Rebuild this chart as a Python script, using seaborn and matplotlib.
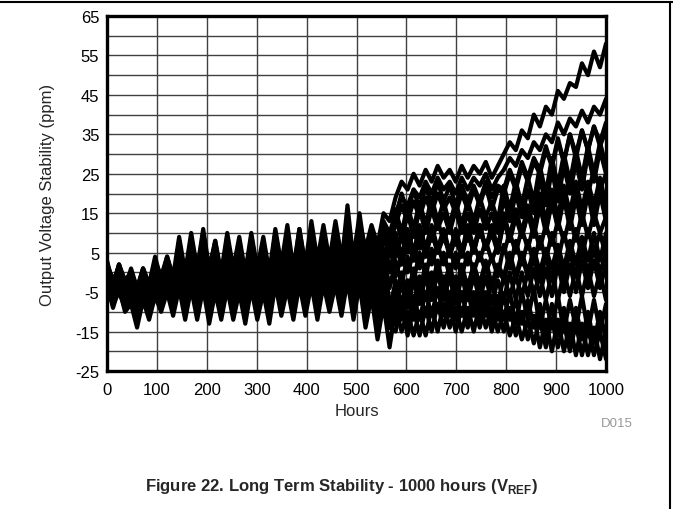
import numpy as np
import pandas as pd
import matplotlib
matplotlib.use("Agg")
import matplotlib.pyplot as plt
import seaborn as sns
from matplotlib.lines import Line2D

# ==========================================
# Data: output voltage drift (ppm), one reading every ~12 hours
# ==========================================
hours = np.linspace(0, 1000, 84)

s1 = [3, -3, 2, -4, 1, -4, 0, -3, 4, -2, 4, -1,
      9, 0, 10, 1, 11, 1, 8, 0, 10, 1, 9, 0,
      10, 1, 9, 0, 11, 2, 12, 1, 11, 2, 13, 3,
      12, 3, 13, 4, 12, 5, 13, 6, 12, 7, 15, 13,
      19, 23, 21, 25, 22, 26, 23, 27, 24, 26, 23, 27,
      24, 27, 25, 28, 24, 27, 30, 33, 31, 36, 34, 40,
      37, 42, 40, 46, 44, 48, 47, 53, 50, 56, 52, 58]
s2 = [1, -3, 2, -2, 0, -4, 1, -3, 3, -1, 4, -2,
      5, -1, 6, 0, 7, 1, 5, -1, 6, 0, 5, -1,
      6, 0, 5, -1, 7, 1, 6, 0, 7, 1, 8, 2,
      8, 2, 9, 3, 11, 4, 12, 5, 11, 6, 13, 10,
      15, 19, 17, 21, 19, 23, 20, 24, 21, 23, 20, 24,
      21, 24, 22, 25, 21, 24, 26, 29, 27, 31, 29, 33,
      31, 35, 33, 38, 35, 39, 37, 41, 38, 42, 40, 44]
s3 = [1, -4, 2, -3, -1, -6, 0, -5, 2, -3, 3, -3,
      5, -2, 6, -1, 6, -2, 4, -3, 6, -1, 5, -2,
      6, -1, 5, -3, 7, 0, 6, -2, 8, 0, 7, -1,
      7, 0, 8, 1, 9, 2, 10, 2, 9, 3, 11, 8,
      12, 17, 13, 18, 14, 19, 15, 20, 16, 19, 15, 20,
      16, 21, 17, 22, 16, 21, 20, 25, 21, 27, 23, 28,
      25, 31, 27, 33, 28, 35, 30, 36, 31, 37, 33, 38]
s4 = [-1, -6, 0, -5, -2, -7, -1, -6, 1, -4, 2, -5,
      4, -4, 5, -3, 5, -3, 3, -4, 5, -3, 4, -4,
      5, -3, 4, -4, 6, -2, 5, -3, 6, -2, 6, -2,
      6, -2, 7, -1, 7, -1, 8, -1, 7, 0, 9, 4,
      14, 8, 15, 9, 16, 10, 16, 11, 15, 10, 16, 10,
      15, 10, 16, 11, 15, 10, 19, 13, 20, 14, 21, 15,
      24, 17, 26, 18, 27, 20, 28, 21, 30, 23, 31, 25]
s5 = [1, -4, 0, -5, -1, -7, 0, -5, 0, -5, 1, -6,
      2, -5, 3, -4, 3, -4, 2, -5, 3, -4, 2, -5,
      3, -4, 2, -5, 4, -3, 3, -4, 4, -3, 4, -3,
      4, -3, 5, -2, 5, -2, 6, -1, 5, -2, 6, 2,
      4, 9, 5, 11, 6, 12, 8, 13, 8, 12, 7, 12,
      8, 13, 9, 14, 9, 13, 12, 17, 13, 18, 14, 19,
      15, 21, 17, 23, 18, 24, 19, 25, 20, 26, 21, 25]
s6 = [-2, -7, -1, -6, -3, -8, -2, -7, 0, -5, 1, -6,
      2, -5, 2, -5, 2, -5, 1, -6, 2, -5, 1, -6,
      2, -5, 1, -6, 3, -4, 2, -5, 3, -4, 3, -4,
      3, -4, 4, -3, 4, -3, 5, -2, 4, -3, 5, 0,
      7, 2, 8, 3, 9, 4, 10, 5, 9, 5, 9, 4,
      10, 5, 11, 6, 10, 5, 13, 8, 14, 9, 15, 10,
      17, 11, 18, 12, 19, 13, 20, 14, 20, 15, 21, 16]
s7 = [-1, -5, -2, -6, -3, -9, -2, -7, -1, -6, 0, -7,
      1, -6, 1, -6, 1, -6, 0, -7, 1, -6, 0, -7,
      1, -6, 0, -7, 2, -5, 1, -6, 2, -5, 2, -5,
      2, -5, 3, -4, 3, -4, 3, -5, 2, -5, 3, -3,
      -1, 4, 0, 5, 1, 6, 2, 7, 2, 6, 1, 6,
      2, 7, 3, 8, 3, 7, 5, 10, 5, 11, 6, 12,
      6, 12, 7, 13, 8, 14, 8, 15, 9, 15, 10, 14]
s8 = [-3, -7, -2, -6, -4, -10, -3, -8, -2, -6, -1, -7,
      0, -6, 0, -6, 0, -6, -1, -7, 0, -6, -1, -7,
      0, -6, -1, -7, 1, -5, 0, -6, 1, -5, 1, -5,
      1, -5, 1, -5, 2, -4, 2, -5, 1, -6, 2, -4,
      3, -3, 4, -2, 5, -1, 6, 0, 5, -1, 5, -1,
      5, 0, 5, 0, 4, -1, 7, 1, 8, 2, 8, 2,
      9, 3, 10, 3, 10, 4, 11, 4, 11, 5, 10, 4]
s9 = [-2, -6, -3, -7, -5, -10, -4, -9, -3, -7, -2, -8,
      -1, -7, -1, -7, -1, -7, -2, -8, -1, -7, -2, -8,
      -1, -7, -2, -8, 0, -6, -1, -7, 0, -6, 0, -7,
      0, -7, 0, -7, 1, -6, 1, -7, -1, -8, 0, -7,
      -6, -1, -6, 0, -5, 1, -4, 2, -4, 1, -5, 1,
      -4, 2, -4, 2, -4, 1, -2, 4, -2, 4, -1, 4,
      -2, 4, -2, 5, -1, 5, -1, 6, 0, 6, 0, 5]
s10 = [-3, -7, -4, -8, -6, -12, -5, -10, -4, -8, -3, -9,
       -2, -8, -2, -8, -2, -8, -3, -9, -2, -8, -3, -9,
       -2, -8, -3, -9, -1, -7, -2, -8, -1, -7, -1, -8,
       -1, -8, -1, -8, 0, -8, -1, -9, -3, -10, -2, -10,
       -2, -8, -2, -8, -1, -7, 0, -6, -1, -7, -1, -7,
       -2, -8, -2, -8, -3, -8, -1, -6, -1, -6, 0, -5,
       -1, -7, 0, -7, 0, -6, 1, -6, 1, -6, 0, -7]
s11 = [-4, -8, -5, -9, -7, -13, -6, -11, -5, -9, -4, -10,
       -3, -11, -3, -10, -3, -11, -4, -11, -3, -10, -4, -11,
       -3, -9, -4, -10, -2, -8, -3, -9, -2, -8, -2, -9,
       -2, -9, -2, -10, -1, -10, -2, -11, -4, -12, -4, -13,
       -13, -7, -13, -6, -12, -5, -11, -4, -11, -5, -12, -5,
       -12, -5, -12, -5, -13, -6, -12, -5, -13, -5, -12, -4,
       -14, -7, -14, -6, -15, -7, -14, -6, -15, -7, -15, -8]
s12 = [-3, -9, -4, -10, -8, -14, -7, -12, -6, -10, -5, -11,
       -4, -12, -4, -12, -4, -13, -5, -12, -4, -12, -5, -13,
       -4, -12, -5, -13, -3, -11, -4, -12, -3, -11, -3, -12,
       -3, -10, -3, -11, -2, -12, -3, -14, -6, -17, -8, -19,
       -9, -15, -10, -16, -10, -16, -9, -15, -8, -14, -9, -15,
       -9, -15, -8, -14, -9, -15, -10, -16, -11, -17, -12, -18,
       -12, -19, -12, -19, -13, -20, -13, -21, -14, -21, -15, -22]
s13 = [2, -2, 1, -3, 0, -4, 1, -3, 2, -2, 3, -3,
       4, -2, 5, -1, 6, 0, 4, -2, 5, -1, 4, -2,
       5, -1, 4, -2, 6, 0, 5, -1, 7, 1, 8, 2,
       7, 1, 9, 2, 17, 3, 15, 4, 10, 2, 12, 6,
       16, 10, 17, 11, 18, 12, 19, 13, 18, 12, 18, 12,
       18, 13, 19, 14, 18, 13, 22, 16, 23, 17, 24, 18,
       27, 20, 29, 22, 30, 23, 31, 24, 32, 25, 33, 27]
s14 = [0, -4, -1, -5, -2, -7, -1, -5, 1, -3, 2, -4,
       3, -3, 4, -2, 4, -2, 3, -3, 4, -2, 3, -3,
       3, -3, 2, -4, 4, -2, 3, -3, 4, -2, 4, -2,
       4, -2, 5, -1, 6, -1, 8, 0, 4, -4, 3, -8,
       -6, 0, -6, 1, -5, 2, -4, 3, -4, 2, -5, 2,
       -4, 2, -3, 3, -3, 2, -1, 5, -1, 5, 0, 6,
       0, 6, 1, 7, 1, 8, 2, 9, 3, 10, 3, 10]
s15 = [-2, -6, -3, -7, -4, -9, -3, -8, -2, -6, -1, -7,
       -1, -7, 0, -6, 0, -6, -1, -7, 0, -6, -1, -7,
       -1, -7, -2, -8, 0, -6, -1, -7, 0, -6, 1, -6,
       1, -6, 2, -6, 3, -7, 5, -10, 2, -12, 0, -14,
       -15, -8, -16, -9, -16, -9, -15, -8, -14, -8, -15, -9,
       -14, -8, -14, -8, -15, -9, -15, -9, -16, -10, -17, -11,
       -19, -12, -20, -12, -20, -13, -21, -13, -21, -14, -22, -15]
s16 = [1, -3, 0, -4, -1, -5, 0, -4, 1, -3, 2, -2,
       4, -2, 5, -1, 5, -1, 4, -2, 5, -1, 4, -2,
       4, -2, 3, -3, 5, -1, 4, -2, 6, 0, 7, 1,
       6, 0, 7, 1, 9, 2, 11, 3, 9, 1, 11, 5,
       10, 4, 11, 5, 12, 6, 12, 6, 11, 5, 11, 5,
       12, 6, 12, 6, 11, 5, 14, 8, 15, 9, 15, 9,
       17, 10, 18, 11, 19, 11, 19, 12, 20, 12, 20, 13]
s17 = [0, -5, 1, -4, -1, -6, 0, -5, 2, -3, 3, -3,
       8, -1, 9, 0, 10, 0, 8, -2, 9, -1, 8, -1,
       9, 0, 8, -1, 10, 1, 9, 0, 11, 1, 10, 2,
       9, 2, 10, 3, 11, 3, 12, 4, 10, 5, 12, 9,
       14, 20, 15, 21, 16, 22, 17, 23, 18, 22, 17, 22,
       18, 22, 18, 23, 19, 22, 21, 26, 22, 28, 24, 29,
       26, 32, 27, 34, 28, 35, 29, 36, 31, 37, 32, 36]
s18 = [-2, -8, -3, -9, -5, -11, -4, -10, -3, -8, -2, -9,
       -1, -8, -1, -8, -1, -9, -2, -9, -1, -8, -2, -9,
       -1, -8, -2, -9, 0, -7, -1, -8, 0, -7, 0, -8,
       0, -8, 0, -9, 1, -9, 0, -11, -3, -13, -4, -14,
       -5, -12, -6, -12, -5, -11, -4, -10, -4, -11, -5, -11,
       -5, -11, -5, -11, -6, -12, -6, -12, -7, -13, -7, -14,
       -8, -16, -8, -16, -9, -17, -9, -17, -10, -18, -10, -17]
s19 = [2, -2, 1, -3, 0, -5, 1, -4, 2, -2, 3, -2,
       5, -2, 6, -1, 6, -1, 5, -2, 6, -1, 5, -2,
       6, -1, 5, -2, 7, 0, 6, -1, 7, 0, 7, -1,
       8, 0, 9, 1, 10, 1, 12, 2, 9, 0, 10, 4,
       8, 2, 9, 3, 10, 4, 11, 5, 10, 4, 9, 4,
       11, 5, 12, 6, 12, 6, 15, 9, 16, 10, 17, 11,
       20, 13, 21, 14, 22, 15, 23, 16, 23, 17, 24, 17]
s20 = [-1, -6, 0, -5, -2, -8, -1, -7, 0, -5, 1, -6,
       2, -5, 3, -4, 3, -4, 2, -5, 3, -4, 2, -5,
       2, -5, 1, -6, 3, -4, 2, -5, 3, -4, 3, -4,
       3, -4, 4, -4, 5, -4, 6, -6, 3, -9, 1, -11,
       -8, -3, -9, -2, -8, -1, -7, 0, -7, -1, -8, -1,
       -7, -1, -7, -1, -8, -2, -7, 0, -7, 0, -6, 1,
       -6, 1, -6, 2, -5, 2, -5, 3, -4, 3, -4, 2]

units = [s1, s2, s3, s4, s5, s6, s7, s8, s9, s10,
         s11, s12, s13, s14, s15, s16, s17, s18, s19, s20]

x_ticks = list(range(0, 1001, 100))
y_ticks = list(range(-25, 66, 10))

# long form table for seaborn
df = pd.concat(
    [pd.DataFrame({"hours": hours, "ppm": vals, "unit": i}) for i, vals in enumerate(units)],
    ignore_index=True,
)

# ==========================================
# Plot
# ==========================================
sns.set_theme(style="white")
plt.rcParams["font.family"] = ["Liberation Sans", "DejaVu Sans"]
plt.rcParams["axes.unicode_minus"] = False
plt.rcParams["mathtext.fontset"] = "custom"
plt.rcParams["mathtext.rm"] = "Liberation Sans"
plt.rcParams["mathtext.bf"] = "Liberation Sans:bold"

fig = plt.figure(figsize=(6.73, 5.10), dpi=100)
ax = fig.add_axes([107 / 673, 1 - 372 / 510, 499 / 673, 355 / 510])

sns.lineplot(data=df, x="hours", y="ppm", units="unit", estimator=None,
             color="black", linewidth=3.0, solid_joinstyle="round",
             ax=ax, legend=False)

ax.set_xlim(0, 1000)
ax.set_ylim(-25, 65)
ax.set_xticks(x_ticks)
ax.set_yticks(y_ticks)
ax.set_yticks(range(-20, 65, 10), minor=True)
ax.grid(True, which="both", color="#404040", linewidth=1.0)
ax.set_axisbelow(True)
ax.tick_params(which="both", length=0, labelsize=12, colors="black")
ax.tick_params(axis="x", pad=8)
ax.tick_params(axis="y", pad=5.5)
for sp in ax.spines.values():
    sp.set_color("black")
    sp.set_linewidth(2.4)

ax.set_xlabel("Hours", fontsize=12)
ax.set_ylabel("Output Voltage Stability (ppm)", fontsize=12)
ax.xaxis.set_label_coords(0.5, -0.09)
ax.yaxis.set_label_coords(-0.104, 0.5)

fig.text(617 / 673, 1 - 424 / 510, "D015", color="#999999", fontsize=9.5,
         ha="center", va="center")
fig.text(341 / 673, 1 - 487 / 510,
         r"Figure 22. Long Term Stability - 1000 hours (V$_{\mathbf{REF}}$)",
         fontsize=12, fontweight="bold", ha="center", va="center")

# page frame lines of the datasheet
fig.add_artist(Line2D([0, 1], [1 - 3 / 510, 1 - 3 / 510], transform=fig.transFigure,
                      color="black", linewidth=1.5))
fig.add_artist(Line2D([670 / 673, 670 / 673], [0, 1 - 3 / 510], transform=fig.transFigure,
                      color="black", linewidth=1.5))

fig.savefig("out.png", dpi=100)
